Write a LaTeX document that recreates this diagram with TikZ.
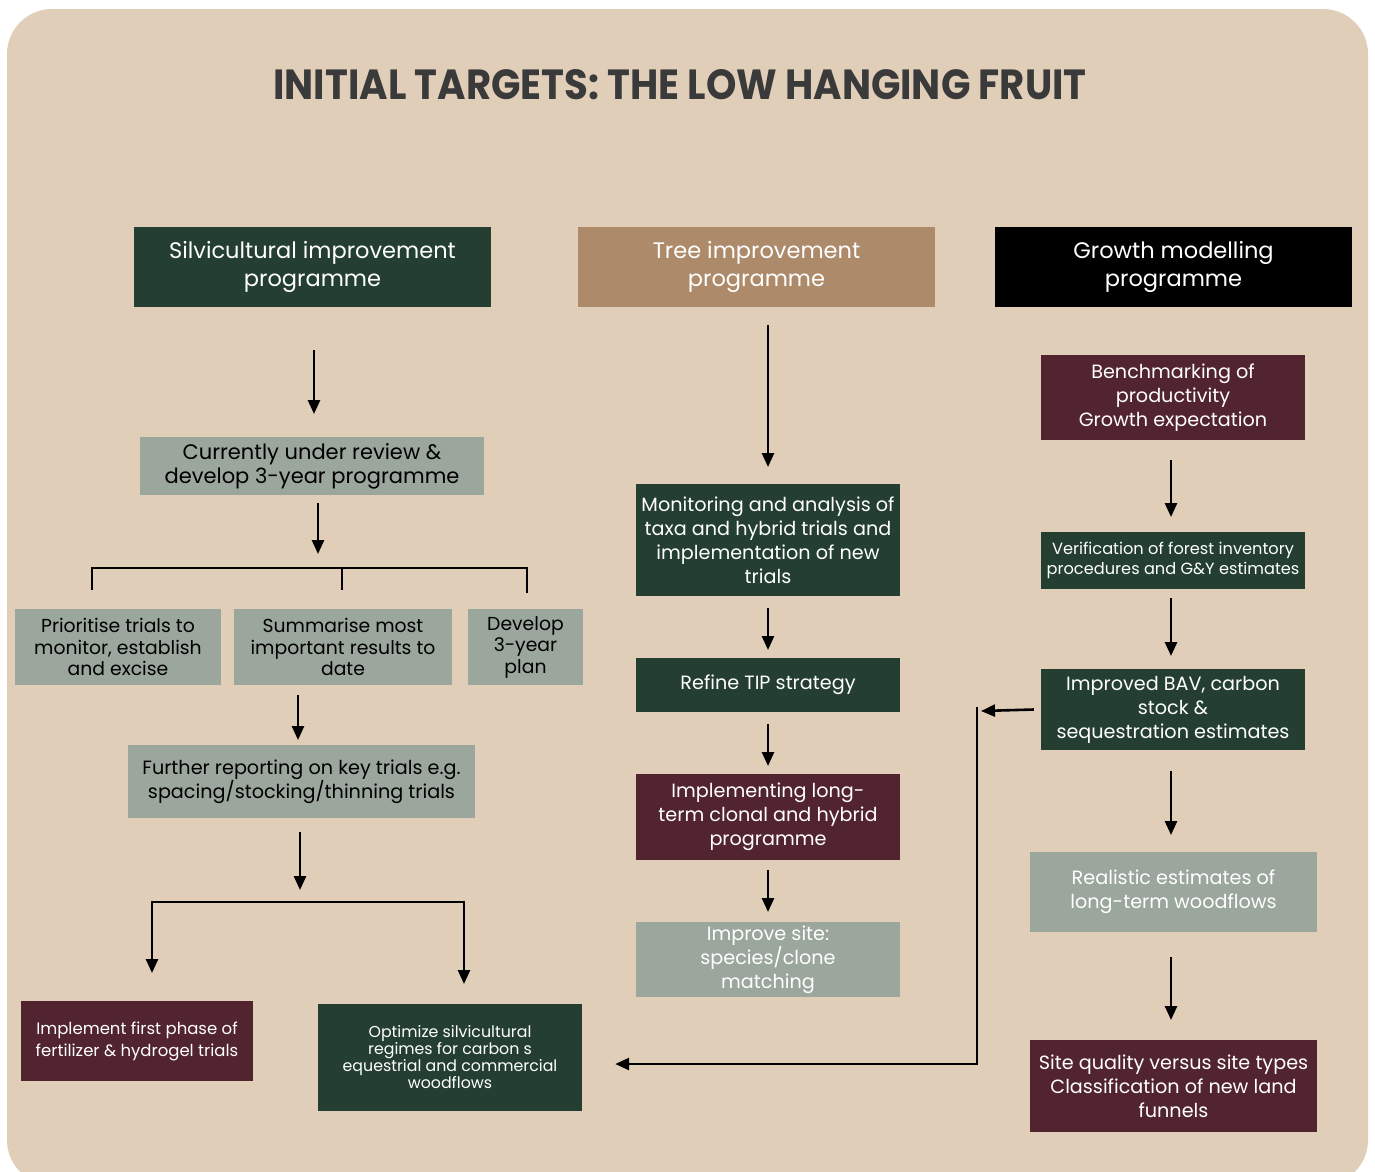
\documentclass[tikz,border=0pt]{standalone}
\usepackage{fontspec}
\setmainfont{Poppins}
\usetikzlibrary{arrows.meta}
\definecolor{bg}{HTML}{E0CEB9}
\definecolor{dgreen}{HTML}{243F31}
\definecolor{tan}{HTML}{AD8A6A}
\definecolor{maroon}{HTML}{522430}
\definecolor{sage}{HTML}{9BA69C}
\definecolor{titlec}{HTML}{3A3A3A}
\begin{document}
\begin{tikzpicture}[x=1pt,y=-1pt,
  box/.style={inner sep=0pt, align=center, text=white},
  head/.style={box, minimum width=357pt, minimum height=80pt, font=\fontsize{22.5}{28}\selectfont},
  body/.style={box, font=\fontsize{19.2}{24}\selectfont},
  green/.style={fill=dgreen},
  mar/.style={fill=maroon},
  sg/.style={fill=sage},
  arr/.style={line width=2.6pt, -{Triangle[length=14pt,width=12pt]}},
  ln/.style={line width=2.6pt}]
\useasboundingbox (0,0) rectangle (1375,1171);
\fill[bg, rounded corners=45pt] (7,9) rectangle (1368,1185);

\node[text=titlec] (title) at (680,85) {\resizebox{813pt}{30pt}{\bfseries INITIAL TARGETS: THE LOW HANGING FRUIT}};

% headers
\node[head, fill=dgreen] (h1) at (312.5,267) {Silvicultural improvement\\programme};
\node[head, fill=tan] (h2) at (756.5,267) {Tree improvement\\programme};
\node[head, fill=black] (h3) at (1173.5,267) {Growth modelling\\programme};

% left column
\node[body, sg, text=black, minimum width=344pt, minimum height=58pt, font=\fontsize{21}{24}\selectfont] (rev) at (312,466) {Currently under review \&\\develop 3-year programme};
\node[body, sg, text=black, minimum width=206pt, minimum height=76pt, font=\fontsize{18.8}{21.5}\selectfont] (p1) at (118,647) {Prioritise trials to\\monitor, establish\\and excise};
\node[body, sg, text=black, minimum width=218pt, minimum height=76pt, font=\fontsize{18.8}{21.5}\selectfont] (p2) at (343,647) {Summarise most\\important results to\\date};
\node[body, sg, text=black, minimum width=115pt, minimum height=76pt, font=\fontsize{18.8}{21.5}\selectfont] (p3) at (525.5,647) {Develop\\3-year\\plan};
\node[body, sg, text=black, minimum width=347pt, minimum height=73pt, font=\fontsize{19.2}{22}\selectfont] (fur) at (301.5,781.5) {Further reporting on key trials e.g.\\spacing/stocking/thinning trials};
\node[body, mar, minimum width=232pt, minimum height=80pt, font=\fontsize{16.5}{22}\selectfont] (imp) at (137,1041) {Implement first phase of\\fertilizer \& hydrogel trials};
\node[body, green, minimum width=264pt, minimum height=107pt, font=\fontsize{15.8}{17}\selectfont] (opt) at (450,1057.5) {Optimize silvicultural\\regimes for carbon s\\equestrial and commercial\\woodflows};

% middle column
\node[body, green, minimum width=264pt, minimum height=112pt] (mon) at (768,540) {Monitoring and analysis of\\taxa and hybrid trials and\\implementation of new\\trials};
\node[body, green, minimum width=264pt, minimum height=54pt] (ref) at (768,685) {Refine TIP strategy};
\node[body, mar, minimum width=264pt, minimum height=86pt] (impl) at (768,817) {Implementing long-\\term clonal and hybrid\\programme};
\node[body, sg, minimum width=264pt, minimum height=75pt] (site) at (768,959.5) {Improve site:\\species/clone\\matching};

% right column
\node[body, mar, minimum width=264pt, minimum height=85pt] (ben) at (1173,397.5) {Benchmarking of\\productivity\\Growth expectation};
\node[body, green, minimum width=264pt, minimum height=57pt, font=\fontsize{16.2}{20.5}\selectfont] (ver) at (1173,560.5) {Verification of forest inventory\\procedures and G\&Y estimates};
\node[body, green, minimum width=264pt, minimum height=81pt] (bav) at (1173,709.5) {Improved BAV, carbon\\stock \&\\sequestration estimates};
\node[body, sg, minimum width=287pt, minimum height=80pt] (real) at (1173.5,892) {Realistic estimates of\\long-term woodflows};
\node[body, mar, minimum width=287pt, minimum height=92pt] (sq) at (1173.5,1086) {Site quality versus site types\\Classification of new land\\funnels};

% left arrows
\draw[arr] (314,350) -- (314,414);
\draw[arr] (318,503) -- (318,554);
\coordinate (bl) at (92,568);
\coordinate (br) at (527,568);
\draw[ln] (92,590) -- (bl) -- (br) -- (527,593);
\draw[ln] (342,568) -- (342,590);
\draw[arr] (298,695) -- (298,740);
\draw[arr] (300,832) -- (300,890);
\draw[arr] (464,902) -- (152,902) -- (152,973);
\draw[arr] (152,902) -- (464,902) -- (464,984);

% middle arrows
\draw[arr] (768,325) -- (768,467);
\draw[arr] (768,608) -- (768,650);
\draw[arr] (768,724) -- (768,766);
\draw[arr] (768,870) -- (768,912);

% right arrows
\draw[arr] (1171,460) -- (1171,517);
\draw[arr] (1171,598) -- (1171,656);
\draw[arr] (1171,771) -- (1171,835);
\draw[arr] (1171,957) -- (1171,1020);
\coordinate (fb) at (977,707);
\draw[arr] ([xshift=-7pt]bav.west) -- (981,711);
\draw[arr] (fb) |- ([xshift=33pt]opt.east |- 0,1064);
\end{tikzpicture}
\end{document}
